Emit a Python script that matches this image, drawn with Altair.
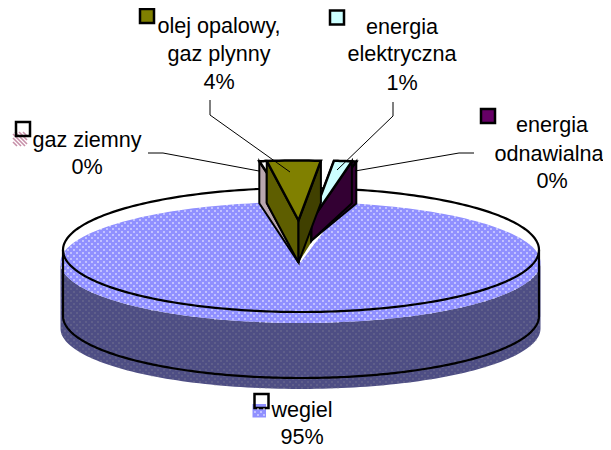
import math
import numpy as np
import altair as alt

# ---- chart values ----
categories = ["wegiel", "gaz ziemny", "olej opalowy, gaz plynny", "energia elektryczna", "energia odnawialna"]
shares = [94.4, 0.5, 3.6, 1.2, 0.3]
shown = ["95%", "0%", "4%", "1%", "0%"]

# ---- 3-D pie drawing set-up ----
FCX, FCY, FRX, FRY, FDEPTH = 300.5, 262.5, 240, 60.5, 66   # filled disc
OCX, OCY, ORX, ORY = 301, 250, 238, 62                     # outline disc
EXPLODE_Y = 42
SMALL_DEPTH = 42
START = -math.radians(9.4)
WEDGE_RY = 60
WEDGE_RX = 240

BLUE, BLUE_DARK = "#9090FF", "#4E4E84"
OLIVE, OLIVE_L, OLIVE_R = "#808000", "#5E5E00", "#404000"
CYAN, PURPLE, PURPLE_D = "#CCFFFF", "#660066", "#330033"
HATCH = "#C78FA8"

feats_base, feats_front, feats_lines = [], [], []


def feat(target, pts, fill="transparent", stroke="transparent", sw=0, closed=True):
    pts = [[float(a), float(b)] for a, b in pts]
    if closed:
        geom = {"type": "Polygon", "coordinates": [pts + [pts[0]]]}
    else:
        geom = {"type": "LineString", "coordinates": pts}
    target.append({"type": "Feature", "geometry": geom,
                   "properties": {"f": fill, "s": stroke, "w": sw}})


def ell(cx, cy, rx, ry, a0, a1, n=120):
    # angle measured clockwise from the top of the pie
    t = np.linspace(a0, a1, n)
    return list(zip(cx + rx * np.sin(t), cy - ry * np.cos(t)))


# cumulative slice angles from the shares, clockwise
total = sum(shares)
spans = {}
a = START
for c, v in zip(categories[1:] + categories[:1], shares[1:] + shares[:1]):
    d = v / total * 2 * math.pi
    spans[c] = (a, a + d)
    a += d

# big slice (coal) – fill
w0, w1 = spans["wegiel"]
feat(feats_base, ell(FCX, FCY, FRX, FRY, math.pi / 2, 3 * math.pi / 2)
     + ell(FCX, FCY + FDEPTH, FRX, FRY, 3 * math.pi / 2, math.pi / 2), fill=BLUE_DARK)
feat(feats_base, [(FCX, FCY)] + ell(FCX, FCY, FRX, FRY, w0, w1, 240), fill=BLUE)


def in_top(x, y):
    u, v = (x - FCX) / FRX, (y - FCY) / FRY
    inside = u * u + v * v < 1
    ang = np.arctan2(u, -v)
    notch = (ang > w1 - 2 * math.pi) & (ang < w0)
    return inside & ~notch


def in_side(x, y):
    u, v = (x - FCX) / FRX, (y - FCY) / FRY
    v2 = (y - FCY - FDEPTH) / FRY
    top = u * u + v * v < 1
    low = (u * u + v2 * v2 < 1) | ((np.abs(u) < 1) & (y < FCY + FDEPTH) & (y > FCY))
    return low & ~top & (y > FCY)


gx, gy = np.meshgrid(np.arange(56, 548, 6.0), np.arange(196, 396, 3.0))
gx = gx + (np.round((gy - 196) / 3) % 2) * 3
gx, gy = gx.ravel(), gy.ravel()
m_top = in_top(gx, gy)
m_side = in_side(gx, gy)
dots_top = [{"x": float(a), "y": float(b)} for a, b in zip(gx[m_top], gy[m_top])]
dots_side = [{"x": float(a), "y": float(b)} for a, b in zip(gx[m_side], gy[m_side])]


def wedge(name, top_col, left_col, right_col, dx, tip=SMALL_DEPTH):
    a0, a1 = spans[name]
    cx, cy = FCX + dx, FCY - EXPLODE_Y
    p0 = (cx + WEDGE_RX * math.sin(a0), cy - WEDGE_RY * math.cos(a0))
    p1 = (cx + WEDGE_RX * math.sin(a1), cy - WEDGE_RY * math.cos(a1))
    D = SMALL_DEPTH
    feat(feats_front, [p0, (cx, cy), (cx, cy + tip), (p0[0], p0[1] + D)], fill=left_col, stroke="black", sw=2)
    feat(feats_front, [p1, (cx, cy), (cx, cy + tip), (p1[0], p1[1] + D)], fill=right_col, stroke="black", sw=2)
    feat(feats_front, [(cx, cy)] + ell(cx, cy, WEDGE_RX, WEDGE_RY, a0, a1, 10), fill=top_col, stroke="black", sw=2.5)


# outline of the disc, offset from the fill as in the picture
feat(feats_lines, ell(OCX, OCY, ORX, ORY, -math.pi, math.pi, 300), stroke="black", sw=2.2, closed=False)
feat(feats_lines, [(OCX - ORX, OCY), (OCX - ORX, OCY + FDEPTH)]
     + ell(OCX, OCY + FDEPTH, ORX, ORY, 3 * math.pi / 2, math.pi / 2, 200)
     + [(OCX + ORX, OCY)], stroke="black", sw=2.2, closed=False)

wedge("gaz ziemny", "#FFFFFF", "#B9A6AE", "#FFFFFF", -2)
# dark olive wall seen in the gap between the oil and electricity slices
gap_x, gap_y = FCX - 2, FCY - EXPLODE_Y
feat(feats_front, [(gap_x, gap_y), (gap_x + 14, gap_y - 5), (gap_x + 14, gap_y + 20), (gap_x, gap_y + SMALL_DEPTH)],
     fill=OLIVE_L)
wedge("energia odnawialna", PURPLE, PURPLE_D, PURPLE_D, 11, tip=20)
wedge("energia elektryczna", CYAN, "#99BFBF", PURPLE_D, 11, tip=20)
wedge("olej opalowy, gaz plynny", OLIVE, OLIVE_L, OLIVE_R, -2)

# leader lines
leaders = [
    [(210, 100), (210, 115), (290, 172)],
    [(148, 153), (163, 153), (259, 171)],
    [(393, 102), (393, 116), (337, 170)],
    [(474, 153), (459, 153), (355, 171)],
]
feats_lead = []
for L in leaders:
    feat(feats_lead, L, stroke="black", sw=1, closed=False)

# legend keys: swatch and offset frame
feats_keys = []


def box(x, y, s=14):
    return [(x, y), (x + s, y), (x + s, y + s), (x, y + s)]


feat(feats_keys, box(252.5, 404, 13.5), fill=BLUE)
for k in range(-10, 16, 4):
    seg = [(max(13, 13 + k), 132 + max(0, -k)), (min(27, 27 + k), 146 - max(0, k))]
    feat(feats_keys, seg, stroke=HATCH, sw=1.6, closed=False)
feat(feats_keys, box(140, 9), fill=OLIVE, stroke="black", sw=2.5)
feat(feats_keys, box(16, 122), stroke="black", sw=2.5)
feat(feats_keys, box(330, 10.5), fill=CYAN, stroke="black", sw=2.5)
feat(feats_keys, box(481, 109), fill=PURPLE, stroke="black", sw=2.5)
feat(feats_keys, box(254.5, 394), stroke="black", sw=2.5)

# labels
labels = [
    ("olej opalowy,", 219, 33), ("gaz plynny", 219, 61), (shown[2], 219, 89),
    ("gaz ziemny", 87, 147), (shown[1], 87, 174),
    ("energia", 402, 34), ("elektryczna", 402, 61), (shown[3], 402, 90),
    ("energia", 552, 132), ("odnawialna", 549, 161), (shown[4], 552, 188),
    ("wegiel", 302, 417), (shown[0], 302, 444),
]
label_rows = [{"t": t, "x": x, "y": y} for t, x, y in labels]

proj = dict(type="identity", scale=1, translate=[-8, -8])


def shapes(features):
    return alt.Chart(alt.Data(values=features)).mark_geoshape().encode(
        fill=alt.Fill("properties.f:N", scale=None),
        stroke=alt.Stroke("properties.s:N", scale=None),
        strokeWidth=alt.StrokeWidth("properties.w:Q", scale=None),
    ).project(**proj)


def pts(rows, color, op, size):
    return alt.Chart(alt.Data(values=rows)).mark_square(color=color, opacity=op, size=size, strokeWidth=0).encode(
        longitude="x:Q", latitude="y:Q").project(**proj)


text = alt.Chart(alt.Data(values=label_rows)).mark_text(
    font="Liberation Sans", fontSize=21.6, color="black", align="center", baseline="alphabetic"
).encode(longitude="x:Q", latitude="y:Q", text="t:N").project(**proj)

key_dots = [{"x": float(x), "y": float(y)} for y in np.arange(409, 417, 3.0)
            for x in np.arange(254 + ((y - 405) / 3) % 2 * 3, 265, 6.0)]

chart = alt.layer(
    shapes(feats_base),
    pts(dots_top, "#FFFFFF", 0.85, 2),
    pts(dots_side, "#9A9AA0", 0.45, 2),
    shapes(feats_lines),
    shapes(feats_front),
    shapes(feats_lead),
    shapes(feats_keys),
    pts(key_dots, "#FFFFFF", 0.85, 2),
    text,
).properties(width=595, height=440, padding=0).configure_view(stroke=None)

chart.save("out.html", embed_options={"renderer": "svg", "actions": False})
